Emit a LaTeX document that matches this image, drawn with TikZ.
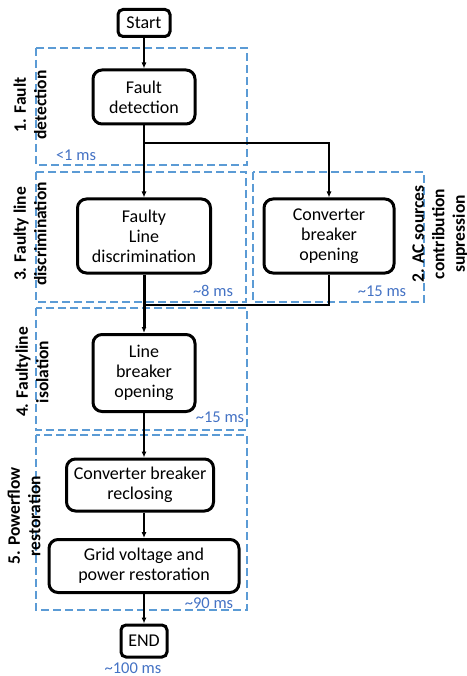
\documentclass[tikz,border=0pt]{standalone}
\usepackage{fontspec}
\setmainfont{Carlito}
\usetikzlibrary{arrows.meta}
\definecolor{phaseblue}{RGB}{91,155,213}
\definecolor{timeblue}{RGB}{68,114,196}
\tikzset{
    stage-box/.style = {draw=black, fill=white, line width=3pt, rectangle, rounded corners=9pt, align=center, inner sep=2pt, font=\fontsize{18}{20}\selectfont},
    phase-box/.style = {draw=phaseblue, line width=1.5pt, dash pattern=on 8pt off 4pt},
    phase-title/.style = {rotate=90, align=center, font=\fontsize{17.5}{20.5}\selectfont\bfseries},
    time-label/.style = {text=timeblue, font=\fontsize{16.5}{18}\selectfont},
    flow/.style = {-{Latex[length=6pt,width=5pt]}, line width=1.1pt},
}

\begin{document}
\begin{tikzpicture}[x=1pt, y=-1pt]
\useasboundingbox (0,0) rectangle (466,676);
\draw[phase-box] (36,48) rectangle (247,165);
\draw[phase-box] (36,172) rectangle (246,302);
\draw[phase-box] (253,172) rectangle (424,302);
\draw[phase-box] (36,308) rectangle (247,430);
\draw[phase-box] (36,435) rectangle (247,610);

\node[stage-box, minimum width=52pt, minimum height=27pt, rounded corners=5pt] (start) at (144,23) {Start};
\node[stage-box, minimum width=102pt, minimum height=54pt] (detect) at (144,97) {Fault\\detection};
\node[stage-box, minimum width=133pt, minimum height=74pt] (discrim) at (144,236) {Faulty\\Line\\discrimination};
\node[stage-box, minimum width=130pt, minimum height=74pt] (convopen) at (329,236) {Converter\\breaker\\opening};
\node[stage-box, minimum width=102pt, minimum height=77pt] (lineopen) at (144,373) {Line\\breaker\\opening};
\node[stage-box, minimum width=147pt, minimum height=52pt] (reclose) at (140,485) {Converter breaker\\reclosing};
\node[stage-box, minimum width=190pt, minimum height=53pt] (restore) at (144,566) {Grid voltage and\\power restoration};
\node[stage-box, minimum width=46pt, minimum height=32pt, rounded corners=5pt] (finish) at (144,641) {END};

\node[phase-title] (title1) at (30,105) {1. Fault\\detection};
\node[phase-title] (title3) at (30,234) {3. Faulty line\\discrimination};
\node[phase-title] (title2) at (440,234) {2. AC sources\\contribution\\supression};
\node[phase-title] (title4) at (32,372) {4. Faultyline\\isolation};
\node[phase-title] (title5) at (24,516) {5. Powerflow\\restoration};

\node[time-label] (time1) at (76,155) {<1 ms};
\node[time-label] (time3) at (213,291) {\textasciitilde 8 ms};
\node[time-label] (time2) at (382,291) {\textasciitilde 15 ms};
\node[time-label] (time4) at (220,417) {\textasciitilde 15 ms};
\node[time-label] (time5) at (209,603) {\textasciitilde 90 ms};
\node[time-label] (time6) at (133,668) {\textasciitilde 100 ms};

\coordinate (split) at (144,143);
\coordinate (merge) at (144,305);
\draw[flow] (start) -- (detect);
\draw[flow] (detect) -- (discrim);
\draw[flow] (split) -| (convopen);
\draw[line width=1.1pt] (convopen) |- (merge);
\draw[flow, line width=3pt] (discrim) -- (lineopen);
\draw[flow] (lineopen) -- (lineopen.south |- reclose.north);
\draw[flow] (reclose.south -| restore.north) -- (restore);
\draw[flow] (restore) -- (finish);
\end{tikzpicture}
\end{document}
